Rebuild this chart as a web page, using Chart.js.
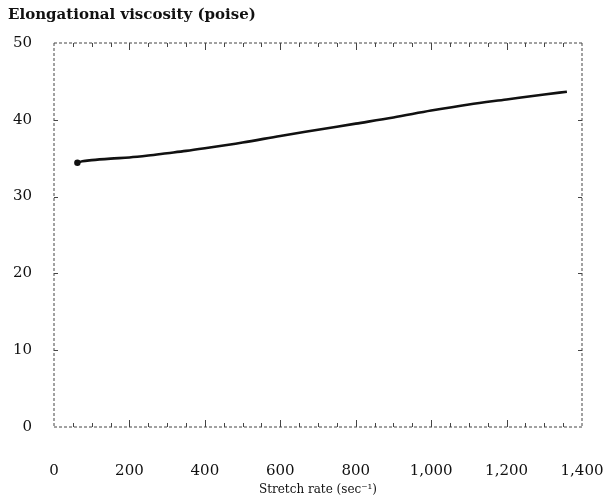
<!DOCTYPE html>
<html>
<head>
<meta charset="utf-8">
<script src="https://cdn.jsdelivr.net/npm/chart.js@4.4.1/dist/chart.umd.min.js"></script>
<style>
html,body{margin:0;padding:0;background:#fff;}
#wrap{width:608px;height:495px;}
</style>
</head>
<body>
<div id="wrap"><canvas id="c" width="608" height="495"></canvas></div>
<script>
const stretchRate = [62, 75, 100, 150, 200, 250, 300, 350, 400, 500, 600, 700, 800, 900, 1000, 1100, 1200, 1300, 1360];
const viscosity   = [34.4, 34.6, 34.75, 34.95, 35.1, 35.35, 35.65, 35.95, 36.3, 37.05, 37.9, 38.7, 39.5, 40.3, 41.2, 42.0, 42.65, 43.3, 43.65];
const xTicks = [0, 200, 400, 600, 800, 1000, 1200, 1400];
const yTicks = [0, 10, 20, 30, 40, 50];
const xMinorStep = 50;

const points = stretchRate.map((x, i) => ({x: x, y: viscosity[i]}));
const serif = '"DejaVu Serif", "Liberation Serif", serif';

const framePlugin = {
  id: 'frame',
  afterDraw(chart) {
    const {ctx, chartArea: a, scales: {x, y}} = chart;
    ctx.save();
    ctx.strokeStyle = '#444';
    ctx.lineWidth = 1;
    ctx.setLineDash([3, 2]);
    ctx.beginPath();
    ctx.moveTo(a.left, a.top); ctx.lineTo(a.right, a.top);
    ctx.moveTo(a.right, a.top); ctx.lineTo(a.right, a.bottom);
    ctx.moveTo(a.left, a.bottom); ctx.lineTo(a.right, a.bottom);
    ctx.moveTo(a.left, a.top); ctx.lineTo(a.left, a.bottom);
    ctx.stroke();
    ctx.setLineDash([]);
    ctx.beginPath();
    for (let v = xMinorStep; v < 1400; v += xMinorStep) {
      const px = Math.round(x.getPixelForValue(v)) + 0.5;
      const major = xTicks.includes(v);
      const len = major ? 7 : 4;
      ctx.moveTo(px, a.bottom); ctx.lineTo(px, a.bottom - len);
      ctx.moveTo(px, a.top); ctx.lineTo(px, a.top + len);
    }
    for (const v of yTicks) {
      if (v === 0 || v === 50) continue;
      const py = Math.round(y.getPixelForValue(v)) + 0.5;
      ctx.moveTo(a.right, py); ctx.lineTo(a.right - 4, py);
      ctx.moveTo(a.left, py); ctx.lineTo(a.left + 4, py);
    }
    ctx.stroke();
    ctx.restore();
  }
};

new Chart(document.getElementById('c'), {
  type: 'line',
  data: {
    datasets: [{
      data: points,
      borderColor: '#111',
      borderWidth: 2.6,
      pointRadius: (ctx) => ctx.dataIndex === 0 ? 3.2 : 0,
      pointBackgroundColor: '#111',
      pointBorderWidth: 0,
      cubicInterpolationMode: 'monotone',
      fill: false
    }]
  },
  options: {
    responsive: false,
    animation: false,
    layout: {padding: {left: 8, right: 26, top: 0, bottom: 0}},
    plugins: {
      legend: {display: false},
      tooltip: {enabled: false},
      title: {
        display: true,
        text: 'Elongational viscosity (poise)',
        align: 'start',
        color: '#111',
        font: {family: serif, size: 15, weight: 'bold'},
        padding: {top: 6, bottom: 19}
      }
    },
    scales: {
      x: {
        type: 'linear',
        min: 0, max: 1400,
        afterBuildTicks: (s) => { s.ticks = xTicks.map(v => ({value: v})); },
        afterFit: (s) => { s.height = 68; s.paddingLeft = 0; s.paddingRight = 0; },
        grid: {display: false, drawTicks: false},
        border: {display: false},
        ticks: {
          color: '#111',
          padding: 35,
          maxRotation: 0,
          font: {family: serif, size: 15},
          callback: (v) => v.toLocaleString('en-US')
        },
        title: {
          display: true,
          text: 'Stretch rate (sec\u207B\u00B9)',
          color: '#111',
          font: {family: serif, size: 12},
          padding: {top: 0, bottom: -2}
        }
      },
      y: {
        min: 0, max: 50,
        afterBuildTicks: (s) => { s.ticks = yTicks.map(v => ({value: v})); },
        afterFit: (s) => { s.width = 46; s.paddingTop = 0; s.paddingBottom = 0; },
        grid: {display: false, drawTicks: false},
        border: {display: false},
        ticks: {
          color: '#111',
          padding: 22,
          font: {family: serif, size: 15}
        }
      }
    }
  },
  plugins: [framePlugin]
});
</script>
</body>
</html>
